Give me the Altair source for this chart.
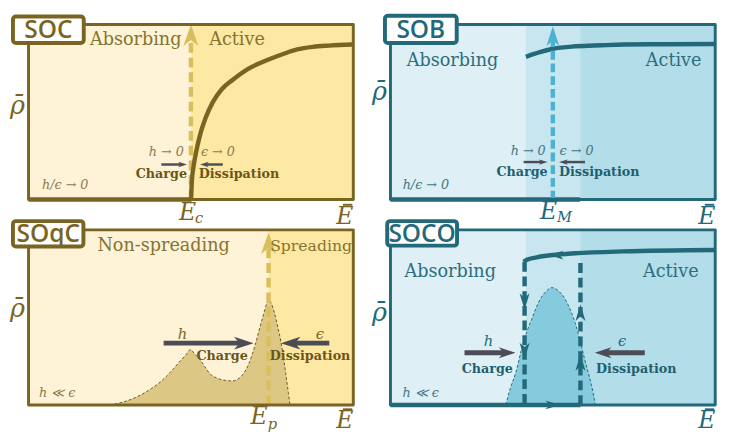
import altair as alt
import pandas as pd

# ---------------- data (fractions of each panel's E / rho range) ----------------
# SOC
soc_Ec = 0.5
soc_curve_x = [0.0, 0.5, 0.503, 0.508, 0.517, 0.528, 0.545, 0.567, 0.595, 0.627, 0.675, 0.728, 0.78, 0.827, 0.875, 0.925, 1.0]
soc_curve_y = [0.0, 0.0, 0.11, 0.187, 0.28, 0.368, 0.465, 0.555, 0.63, 0.681, 0.745, 0.791, 0.828, 0.857, 0.872, 0.879, 0.885]

# SOB
sob_band = [0.417, 0.584]
sob_EM = 0.5
sob_upper_x = [0.417, 0.44, 0.46, 0.5, 0.57, 0.65, 0.72, 0.85, 1.0]
sob_upper_y = [0.815, 0.83, 0.842, 0.861, 0.875, 0.881, 0.885, 0.887, 0.888]
sob_lower_x = [0.0, 0.584]
sob_lower_y = [0.0, 0.0]

# SOqC
soqc_Ep = 0.739
soqc_dist_x = [0.25, 0.29, 0.329, 0.379, 0.405, 0.428, 0.448, 0.468, 0.485, 0.4985, 0.512, 0.528, 0.543,
               0.558, 0.578, 0.598, 0.628, 0.645, 0.658, 0.678, 0.698, 0.712, 0.724, 0.733, 0.739, 0.746,
               0.757, 0.768, 0.777, 0.785, 0.792, 0.8, 0.805]
soqc_dist_y = [0.0, 0.016, 0.042, 0.095, 0.13, 0.17, 0.21, 0.253, 0.287, 0.316, 0.29, 0.258, 0.218,
               0.179, 0.155, 0.143, 0.137, 0.148, 0.17, 0.234, 0.344, 0.44, 0.52, 0.577, 0.6, 0.585,
               0.527, 0.44, 0.363, 0.27, 0.179, 0.07, 0.0]

# SOCO
soco_band = [0.417, 0.584]
soco_parab_x = [0.355, 0.37, 0.385, 0.41, 0.435, 0.46, 0.48, 0.497, 0.515, 0.539, 0.574, 0.599, 0.624, 0.631]
soco_parab_y = [0.0, 0.1, 0.179, 0.363, 0.49, 0.6, 0.65, 0.67, 0.655, 0.6, 0.436, 0.253, 0.069, 0.0]
soco_upper_x = [0.41, 0.42, 0.45, 0.5, 0.569, 0.718, 1.0]
soco_upper_y = [0.817, 0.829, 0.843, 0.856, 0.866, 0.877, 0.885]
soco_left_x = 0.413
soco_right_x = 0.585
soco_left_top = 0.817
soco_right_top = 0.811
soco_down_heads_y = [0.59, 0.308]
soco_up_heads_y = [0.527, 0.243]

# ---------------- layout / style ----------------
W, H = 332, 179          # frame size in px
TOP = 11                 # room above each frame for the title tab
LEFT = 20                # room left of each frame for the rho label / tab
G, V = 18, 20
SERIF = "DejaVu Serif"
SANS = "Open Sans"

OL_BG1, OL_BG2 = "#fef3d6", "#fee9a4"
OL_DARK, OL_TEXT, OL_BOLD, OL_MATH = "#7a6422", "#86732f", "#6b5518", "#8a7b52"
GOLD, TAN = "#d9bf5c", "#dcc785"
TE_BG1, TE_BG2, TE_BG3 = "#deeff5", "#c8e6f0", "#b3dde9"
TE_DARK, TE_TEXT, TE_BOLD, TE_MATH = "#22697a", "#2d6e7d", "#1f5f6f", "#3f7785"
CYAN, PARAB = "#4bb3cf", "#86cade"
GREY = "#4b4c55"

XS = alt.Scale(domain=[-LEFT / W, 1], nice=False, zero=False)
YS = alt.Scale(domain=[0, 1 + TOP / H], nice=False, zero=False)


def xq(f="x"):
    return alt.X(f"{f}:Q", scale=XS, axis=None)


def yq(f="y"):
    return alt.Y(f"{f}:Q", scale=YS, axis=None)


def head_path(direction, r):
    if direction == "right":
        return f"M1,0 L-1,{-r} L-0.45,0 L-1,{r} Z"
    if direction == "left":
        return f"M-1,0 L1,{-r} L0.45,0 L1,{r} Z"
    if direction == "up":
        return f"M0,-1 L{-r},1 L0,0.45 L{r},1 Z"
    return f"M0,1 L{-r},-1 L0,-0.45 L{r},-1 Z"


def bands(edges, colors):
    n = len(colors)
    df = pd.DataFrame({"x": edges[:-1], "x2": edges[1:], "y": [0] * n, "y2": [1] * n, "c": colors})
    return alt.Chart(df).mark_rect(strokeWidth=0).encode(
        x=xq(), x2="x2:Q", y=yq(), y2="y2:Q", fill=alt.Color("c:N", scale=None))


def box(x0, x1, y0, y1, stroke, sw, fill=None, radius=0):
    df = pd.DataFrame({"x": [x0], "x2": [x1], "y": [y0], "y2": [y1]})
    kw = dict(stroke=stroke, strokeWidth=sw, cornerRadius=radius, strokeJoin="round")
    if fill is None:
        kw["fillOpacity"] = 0
        kw["fill"] = "white"
    else:
        kw["fill"] = fill
    return alt.Chart(df).mark_rect(**kw).encode(x=xq(), x2="x2:Q", y=yq(), y2="y2:Q")


def line(xs, ys, color, width, dash=None, interp="linear", cap="butt"):
    df = pd.DataFrame({"x": xs, "y": ys, "i": list(range(len(xs)))})
    kw = dict(color=color, strokeWidth=width, interpolate=interp, strokeCap=cap)
    if dash:
        kw["strokeDash"] = dash
    return alt.Chart(df).mark_line(**kw).encode(x=xq(), y=yq(), order="i:Q")


def area(xs, ys, fill):
    df = pd.DataFrame({"x": xs, "y": ys, "y0": [0] * len(xs)})
    return alt.Chart(df).mark_area(color=fill, interpolate="monotone", opacity=1).encode(
        x=xq(), y=yq(), y2="y0:Q")


def heads(xs, ys, direction, color, L, r=0.7, dx=0, dy=0):
    df = pd.DataFrame({"x": xs, "y": ys})
    return alt.Chart(df).mark_point(shape=head_path(direction, r), filled=True, fill=color,
                                    size=L * L, opacity=1, strokeWidth=0,
                                    xOffset=dx, yOffset=dy).encode(x=xq(), y=yq())


def texts(labels, xs, ys, color, size, weight="normal", style="normal", font=SERIF, clip=True):
    df = pd.DataFrame({"t": labels, "x": xs, "y": ys})
    return alt.Chart(df).mark_text(color=color, fontSize=size, fontWeight=weight, fontStyle=style,
                                   font=font, align="center", baseline="middle", clip=clip).encode(
        x=xq(), y=yq(), text="t:N")


def harrow(x_from, x_to, y, color, sw, L, r):
    d = 1 if x_to > x_from else -1
    shaft_end = x_to - d * (L * 0.6) / W
    return [line([x_from, shaft_end], [y, y], color, sw),
            heads([x_to], [y], "right" if d > 0 else "left", color, L, r, dx=-d * L / 2)]


def varrow_up(x, y0, y_tip, color, sw, dash, L, r):
    shaft_end = y_tip - (L * 0.6) / H
    return [line([x, x], [y0, shaft_end], color, sw, dash=dash),
            heads([x], [y_tip], "up", color, L, r, dy=L / 2)]


def axis_labels(color, sub_x, sub_main, sub_txt, rho_y, ebar_y, macron_y):
    out = [
        texts(["\u03c1\u0304"], [-0.034], [rho_y], color, 26, style="italic"),
        texts(["E"], [0.974], [ebar_y], color, 24, style="italic", clip=False),
        line([0.968, 0.997], [macron_y, macron_y], color, 2),
    ]
    if sub_txt:
        out += [texts(["E"], [sub_main[0]], [sub_main[1]], color, 24, style="italic", clip=False),
                texts([sub_txt], [sub_x[0]], [sub_x[1]], color, 15, style="italic", clip=False)]
    return out


def title_box(label, x0, x1, y0, y1, color):
    return [box(x0, x1, y0, y1, color, 4, fill="white", radius=3),
            texts([label], [(x0 + x1) / 2], [(y0 + y1) / 2 - 0.004], color, 25, weight=600, font=SANS)]


# ---------------- SOC ----------------
soc_layers = [
    bands([0, soc_Ec, 1], [OL_BG1, OL_BG2]),
    *varrow_up(soc_Ec, 0.0, 1.0, GOLD, 4.5, [10, 5], 22, 0.7),
    line(soc_curve_x, soc_curve_y, OL_DARK, 4.5, interp="monotone"),
    texts(["Absorbing", "Active"], [0.33, 0.642], [0.912, 0.912], OL_TEXT, 18),
    texts(["h \u2192 0", "\u03f5 \u2192 0"], [0.424, 0.583], [0.269, 0.269], OL_MATH, 13, style="italic"),
    *harrow(0.409, 0.488, 0.2, GREY, 2.5, 9, 0.6),
    *harrow(0.598, 0.528, 0.2, GREY, 2.5, 9, 0.6),
    texts(["Charge", "Dissipation"], [0.409, 0.648], [0.145, 0.145], OL_BOLD, 13, weight="bold"),
    texts(["h/\u03f5 \u2192 0"], [0.113], [0.082], OL_MATH, 13, style="italic"),
    box(0, 1, 0, 1, OL_DARK, 3),
    *axis_labels(OL_DARK, (0.525, -0.108), (0.49, -0.078), "c", 0.533, -0.1, -0.03),
    *title_box("SOC", -0.048, 0.170, 0.894, 1.045, OL_DARK),
]
soc = alt.layer(*soc_layers).properties(width=W + LEFT, height=H + TOP)

# ---------------- SOB ----------------
sob_layers = [
    bands([0, sob_band[0], sob_band[1], 1], [TE_BG1, TE_BG2, TE_BG3]),
    line(sob_lower_x, sob_lower_y, TE_DARK, 4.5),
    line(sob_upper_x, sob_upper_y, TE_DARK, 4.5, interp="monotone"),
    *varrow_up(sob_EM, 0.0, 0.989, CYAN, 4.5, [9, 4], 20, 0.65),
    texts(["Absorbing", "Active"], [0.191, 0.872], [0.793, 0.793], TE_TEXT, 18),
    texts(["h \u2192 0", "\u03f5 \u2192 0"], [0.424, 0.573], [0.278, 0.278], TE_MATH, 13, style="italic"),
    *harrow(0.41, 0.484, 0.214, GREY, 2.5, 9, 0.6),
    *harrow(0.599, 0.519, 0.214, GREY, 2.5, 9, 0.6),
    texts(["Charge", "Dissipation"], [0.405, 0.643], [0.159, 0.159], TE_BOLD, 13, weight="bold"),
    texts(["h/\u03f5 \u2192 0"], [0.109], [0.082], TE_MATH, 13, style="italic"),
    box(0, 1, 0, 1, TE_DARK, 3),
    *axis_labels(TE_DARK, (0.536, -0.1), (0.487, -0.07), "M", 0.614, -0.1, -0.03),
    *title_box("SOB", -0.017, 0.204, 0.894, 1.05, TE_DARK),
]
sob = alt.layer(*sob_layers).properties(width=W + LEFT, height=H + TOP)

# ---------------- SOqC ----------------
soqc_layers = [
    bands([0, soqc_Ep, 1], [OL_BG1, OL_BG2]),
    area(soqc_dist_x, soqc_dist_y, TAN),
    line(soqc_dist_x, soqc_dist_y, "#6b5a2a", 1, dash=[3, 2], interp="monotone"),
    *varrow_up(soqc_Ep, 0.0, 0.985, GOLD, 4.5, [10, 5], 22, 0.7),
    texts(["Non-spreading"], [0.416], [0.907], OL_TEXT, 18),
    texts(["Spreading"], [0.87], [0.907], OL_TEXT, 16),
    texts(["h", "\u03f5"], [0.474, 0.897], [0.403, 0.403], OL_DARK, 15, style="italic"),
    *harrow(0.416, 0.693, 0.353, GREY, 5, 20, 0.65),
    *harrow(0.926, 0.777, 0.353, GREY, 5, 20, 0.65),
    texts(["Charge", "Dissipation"], [0.596, 0.867], [0.28, 0.28], OL_BOLD, 13, weight="bold"),
    texts(["h \u226a \u03f5"], [0.088], [0.069], OL_MATH, 13, style="italic"),
    box(0, 1, 0, 1, OL_DARK, 3),
    *axis_labels(OL_DARK, (0.751, -0.11), (0.71, -0.068), "p", 0.546, -0.09, -0.025),
    *title_box("SOqC", -0.048, 0.169, 0.905, 1.05, OL_DARK),
]
soqc = alt.layer(*soqc_layers).properties(width=W + LEFT, height=H + TOP)

# ---------------- SOCO ----------------
soco_layers = [
    bands([0, soco_band[0], soco_band[1], 1], [TE_BG1, TE_BG2, TE_BG3]),
    area(soco_parab_x, soco_parab_y, PARAB),
    line(soco_parab_x, soco_parab_y, TE_DARK, 1, dash=[3, 2], interp="monotone"),
    line([0.0, soco_right_x], [0.0, 0.0], TE_DARK, 4.5),
    heads([0.5], [0.0], "right", TE_DARK, 15, 0.6),
    line(soco_upper_x, soco_upper_y, TE_DARK, 4.5, interp="monotone"),
    heads([0.51], [0.856], "left", TE_DARK, 15, 0.6),
    line([soco_left_x, soco_left_x], [soco_left_top, 0.0], TE_DARK, 4.5, dash=[10, 5]),
    line([soco_right_x, soco_right_x], [0.0, soco_right_top], TE_DARK, 4.5, dash=[10, 5]),
    heads([soco_left_x] * 2, soco_down_heads_y, "down", TE_DARK, 17, 0.6),
    heads([soco_right_x] * 2, soco_up_heads_y, "up", TE_DARK, 17, 0.6),
    texts(["Absorbing", "Active"], [0.184, 0.863], [0.756, 0.756], TE_TEXT, 18),
    texts(["h", "\u03f5"], [0.302, 0.713], [0.363, 0.366], TE_DARK, 15, style="italic"),
    *harrow(0.228, 0.385, 0.298, GREY, 5, 17, 0.65),
    *harrow(0.783, 0.629, 0.298, GREY, 5, 17, 0.65),
    texts(["Charge", "Dissipation"], [0.298, 0.757], [0.203, 0.203], TE_BOLD, 13, weight="bold"),
    texts(["h \u226a \u03f5"], [0.093], [0.069], TE_MATH, 13, style="italic"),
    box(0, 1, 0, 1, TE_DARK, 3),
    *axis_labels(TE_DARK, (0, 0), (0, 0), "", 0.522, -0.09, -0.025),
    *title_box("SOCO", -0.01, 0.205, 0.91, 1.05, TE_DARK),
]
soco = alt.layer(*soco_layers).properties(width=W + LEFT, height=H + TOP)

chart = alt.concat(soc, sob, soqc, soco, columns=2, spacing={"row": V, "column": G},
                   bounds="flush").properties(
    padding=0, background="white").configure_view(stroke="transparent")

chart.save("out.html", embed_options={"renderer": "svg", "actions": False})
